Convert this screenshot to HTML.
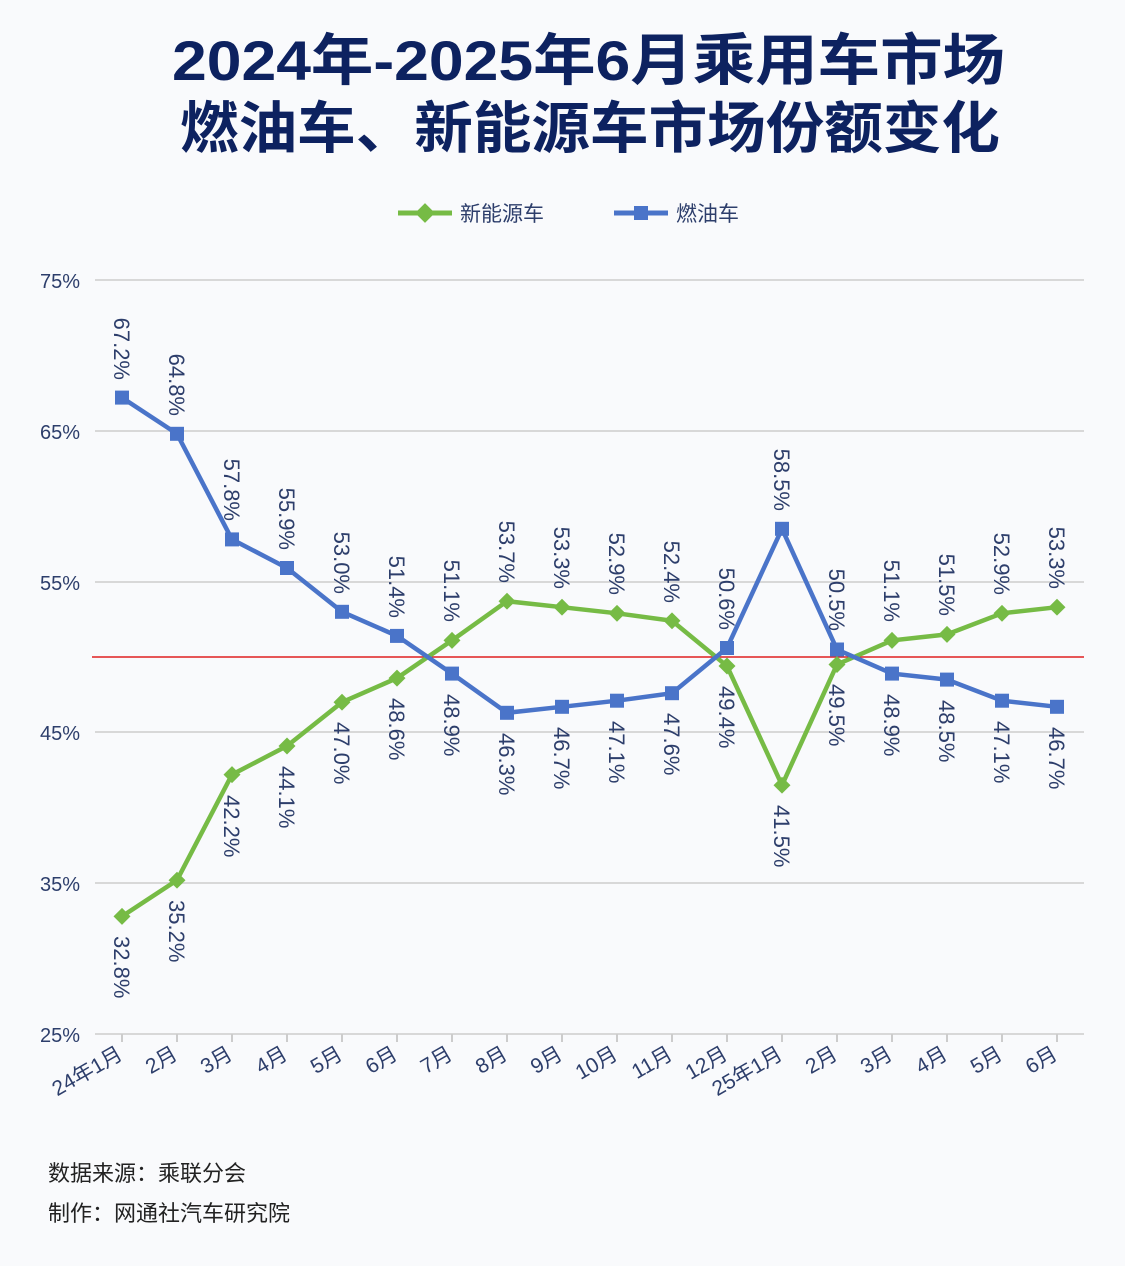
<!DOCTYPE html>
<html><head><meta charset="utf-8"><style>
body{margin:0;background:#f9fafc;}
svg{display:block;font-family:"Liberation Sans","Noto Sans CJK SC",sans-serif;}
</style></head><body>
<svg width="1125" height="1266" viewBox="0 0 1125 1266" xmlns="http://www.w3.org/2000/svg">
<rect width="1125" height="1266" fill="#f9fafc"/>
<text x="172" y="80" textLength="833" lengthAdjust="spacingAndGlyphs" font-size="56" font-weight="bold" fill="#0d2260">2024年-2025年6月乘用车市场</text>
<text x="180" y="148" textLength="820" lengthAdjust="spacingAndGlyphs" font-size="56" font-weight="bold" fill="#0d2260">燃油车、新能源车市场份额变化</text>
<g font-size="21" fill="#2d3e6b">
<line x1="398" y1="213" x2="452" y2="213" stroke="#76bb45" stroke-width="5"/>
<rect x="418" y="206" width="14" height="14" fill="#76bb45" transform="rotate(45 425 213)"/>
<text x="460" y="221">新能源车</text>
<line x1="614" y1="213" x2="668" y2="213" stroke="#4a74c9" stroke-width="5"/>
<rect x="634" y="206" width="14" height="14" fill="#4a74c9"/>
<text x="676" y="221">燃油车</text>
</g>
<g stroke="#d8d8d8" stroke-width="2">
<line x1="95" y1="280" x2="1084" y2="280"/><line x1="95" y1="431" x2="1084" y2="431"/>
<line x1="95" y1="582" x2="1084" y2="582"/><line x1="95" y1="732" x2="1084" y2="732"/>
<line x1="95" y1="883" x2="1084" y2="883"/><line x1="95" y1="1034" x2="1084" y2="1034"/>
</g>
<g font-size="20" fill="#2d3e6b" text-anchor="end">
<text x="80" y="288">75%</text><text x="80" y="439">65%</text><text x="80" y="590">55%</text>
<text x="80" y="740">45%</text><text x="80" y="891">35%</text><text x="80" y="1042">25%</text>
</g>
<line x1="92" y1="657" x2="1084" y2="657" stroke="#e02020" stroke-width="1.5"/>
<g stroke="#ccc" stroke-width="2">
<line x1="122" y1="1034" x2="122" y2="1042"/><line x1="177" y1="1034" x2="177" y2="1042"/><line x1="232" y1="1034" x2="232" y2="1042"/><line x1="287" y1="1034" x2="287" y2="1042"/><line x1="342" y1="1034" x2="342" y2="1042"/><line x1="397" y1="1034" x2="397" y2="1042"/><line x1="452" y1="1034" x2="452" y2="1042"/><line x1="507" y1="1034" x2="507" y2="1042"/><line x1="562" y1="1034" x2="562" y2="1042"/><line x1="617" y1="1034" x2="617" y2="1042"/><line x1="672" y1="1034" x2="672" y2="1042"/><line x1="727" y1="1034" x2="727" y2="1042"/><line x1="782" y1="1034" x2="782" y2="1042"/><line x1="837" y1="1034" x2="837" y2="1042"/><line x1="892" y1="1034" x2="892" y2="1042"/><line x1="947" y1="1034" x2="947" y2="1042"/><line x1="1002" y1="1034" x2="1002" y2="1042"/><line x1="1057" y1="1034" x2="1057" y2="1042"/>
</g>
<g font-size="21" fill="#2d3e6b" text-anchor="end">
<text transform="translate(124,1058) rotate(-30)">24年1月</text>
<text transform="translate(179,1058) rotate(-30)">2月</text>
<text transform="translate(234,1058) rotate(-30)">3月</text>
<text transform="translate(289,1058) rotate(-30)">4月</text>
<text transform="translate(344,1058) rotate(-30)">5月</text>
<text transform="translate(399,1058) rotate(-30)">6月</text>
<text transform="translate(454,1058) rotate(-30)">7月</text>
<text transform="translate(509,1058) rotate(-30)">8月</text>
<text transform="translate(564,1058) rotate(-30)">9月</text>
<text transform="translate(619,1058) rotate(-30)">10月</text>
<text transform="translate(674,1058) rotate(-30)">11月</text>
<text transform="translate(729,1058) rotate(-30)">12月</text>
<text transform="translate(784,1058) rotate(-30)">25年1月</text>
<text transform="translate(839,1058) rotate(-30)">2月</text>
<text transform="translate(894,1058) rotate(-30)">3月</text>
<text transform="translate(949,1058) rotate(-30)">4月</text>
<text transform="translate(1004,1058) rotate(-30)">5月</text>
<text transform="translate(1059,1058) rotate(-30)">6月</text>
</g>
<polyline fill="none" stroke="#76bb45" stroke-width="4.5" points="122,916.4 177,880.2 232,774.6 287,746 342,702.2 397,678.1 452,640.4 507,601.2 562,607.2 617,613.3 672,620.8 727,666 782,785.2 837,664.5 892,640.4 947,634.4 1002,613.3 1057,607.2"/>
<polyline fill="none" stroke="#4a74c9" stroke-width="4.5" points="122,397.6 177,433.8 232,539.4 287,568 342,611.8 397,635.9 452,673.6 507,712.8 562,706.8 617,700.7 672,693.2 727,648 782,528.8 837,649.5 892,673.6 947,679.6 1002,700.7 1057,706.8"/>
<g fill="#76bb45">
<rect x="-6" y="-6" width="12" height="12" transform="translate(122,916.4) rotate(45)"/>
<rect x="-6" y="-6" width="12" height="12" transform="translate(177,880.2) rotate(45)"/>
<rect x="-6" y="-6" width="12" height="12" transform="translate(232,774.6) rotate(45)"/>
<rect x="-6" y="-6" width="12" height="12" transform="translate(287,746) rotate(45)"/>
<rect x="-6" y="-6" width="12" height="12" transform="translate(342,702.2) rotate(45)"/>
<rect x="-6" y="-6" width="12" height="12" transform="translate(397,678.1) rotate(45)"/>
<rect x="-6" y="-6" width="12" height="12" transform="translate(452,640.4) rotate(45)"/>
<rect x="-6" y="-6" width="12" height="12" transform="translate(507,601.2) rotate(45)"/>
<rect x="-6" y="-6" width="12" height="12" transform="translate(562,607.2) rotate(45)"/>
<rect x="-6" y="-6" width="12" height="12" transform="translate(617,613.3) rotate(45)"/>
<rect x="-6" y="-6" width="12" height="12" transform="translate(672,620.8) rotate(45)"/>
<rect x="-6" y="-6" width="12" height="12" transform="translate(727,666) rotate(45)"/>
<rect x="-6" y="-6" width="12" height="12" transform="translate(782,785.2) rotate(45)"/>
<rect x="-6" y="-6" width="12" height="12" transform="translate(837,664.5) rotate(45)"/>
<rect x="-6" y="-6" width="12" height="12" transform="translate(892,640.4) rotate(45)"/>
<rect x="-6" y="-6" width="12" height="12" transform="translate(947,634.4) rotate(45)"/>
<rect x="-6" y="-6" width="12" height="12" transform="translate(1002,613.3) rotate(45)"/>
<rect x="-6" y="-6" width="12" height="12" transform="translate(1057,607.2) rotate(45)"/>
</g>
<g fill="#4a74c9">
<rect x="115" y="390.6" width="14" height="14"/><rect x="170" y="426.8" width="14" height="14"/><rect x="225" y="532.4" width="14" height="14"/><rect x="280" y="561" width="14" height="14"/><rect x="335" y="604.8" width="14" height="14"/><rect x="390" y="628.9" width="14" height="14"/><rect x="445" y="666.6" width="14" height="14"/><rect x="500" y="705.8" width="14" height="14"/><rect x="555" y="699.8" width="14" height="14"/><rect x="610" y="693.7" width="14" height="14"/><rect x="665" y="686.2" width="14" height="14"/><rect x="720" y="641" width="14" height="14"/><rect x="775" y="521.8" width="14" height="14"/><rect x="830" y="642.5" width="14" height="14"/><rect x="885" y="666.6" width="14" height="14"/><rect x="940" y="672.6" width="14" height="14"/><rect x="995" y="693.7" width="14" height="14"/><rect x="1050" y="699.8" width="14" height="14"/>
</g>
<g font-size="22" fill="#2d3e6b">
<text transform="translate(114,936) rotate(90)">32.8%</text>
<text transform="translate(169,900) rotate(90)">35.2%</text>
<text transform="translate(224,795) rotate(90)">42.2%</text>
<text transform="translate(279,766) rotate(90)">44.1%</text>
<text transform="translate(334,722) rotate(90)">47.0%</text>
<text transform="translate(389,698) rotate(90)">48.6%</text>
<text transform="translate(444,622) rotate(90)" text-anchor="end">51.1%</text>
<text transform="translate(499,583) rotate(90)" text-anchor="end">53.7%</text>
<text transform="translate(554,589) rotate(90)" text-anchor="end">53.3%</text>
<text transform="translate(609,595) rotate(90)" text-anchor="end">52.9%</text>
<text transform="translate(664,603) rotate(90)" text-anchor="end">52.4%</text>
<text transform="translate(719,686) rotate(90)">49.4%</text>
<text transform="translate(774,805) rotate(90)">41.5%</text>
<text transform="translate(829,684) rotate(90)">49.5%</text>
<text transform="translate(884,622) rotate(90)" text-anchor="end">51.1%</text>
<text transform="translate(939,616) rotate(90)" text-anchor="end">51.5%</text>
<text transform="translate(994,595) rotate(90)" text-anchor="end">52.9%</text>
<text transform="translate(1049,589) rotate(90)" text-anchor="end">53.3%</text>
<text transform="translate(114,380) rotate(90)" text-anchor="end">67.2%</text>
<text transform="translate(169,416) rotate(90)" text-anchor="end">64.8%</text>
<text transform="translate(224,521) rotate(90)" text-anchor="end">57.8%</text>
<text transform="translate(279,550) rotate(90)" text-anchor="end">55.9%</text>
<text transform="translate(334,594) rotate(90)" text-anchor="end">53.0%</text>
<text transform="translate(389,618) rotate(90)" text-anchor="end">51.4%</text>
<text transform="translate(444,694) rotate(90)">48.9%</text>
<text transform="translate(499,733) rotate(90)">46.3%</text>
<text transform="translate(554,727) rotate(90)">46.7%</text>
<text transform="translate(609,721) rotate(90)">47.1%</text>
<text transform="translate(664,713) rotate(90)">47.6%</text>
<text transform="translate(719,630) rotate(90)" text-anchor="end">50.6%</text>
<text transform="translate(774,511) rotate(90)" text-anchor="end">58.5%</text>
<text transform="translate(829,631) rotate(90)" text-anchor="end">50.5%</text>
<text transform="translate(884,694) rotate(90)">48.9%</text>
<text transform="translate(939,700) rotate(90)">48.5%</text>
<text transform="translate(994,721) rotate(90)">47.1%</text>
<text transform="translate(1049,727) rotate(90)">46.7%</text>
</g>
<text x="48" y="1181" font-size="22" fill="#222">数据来源：乘联分会</text>
<text x="48" y="1221" font-size="22" fill="#222">制作：网通社汽车研究院</text>
</svg>
</body></html>
